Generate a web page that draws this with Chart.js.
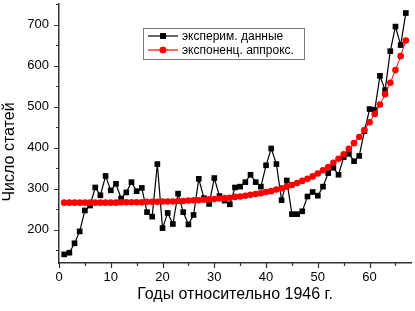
<!DOCTYPE html>
<html>
<head>
<meta charset="utf-8">
<script src="https://cdn.jsdelivr.net/npm/chart.js@4/dist/chart.umd.min.js"></script>
<style>
  body { margin: 0; background: #fff; }
  #wrap { width: 415px; height: 311px; }
</style>
</head>
<body>
<div id="wrap"><canvas id="myChart" width="415" height="311"></canvas></div>
<script>
// years relative to 1946
const years = [1, 2, 3, 4, 5, 6, 7, 8, 9, 10, 11, 12, 13, 14, 15, 16, 17, 18, 19, 20,
    21, 22, 23, 24, 25, 26, 27, 28, 29, 30, 31, 32, 33, 34, 35, 36, 37, 38, 39, 40,
    41, 42, 43, 44, 45, 46, 47, 48, 49, 50, 51, 52, 53, 54, 55, 56, 57, 58, 59, 60,
    61, 62, 63, 64, 65, 66, 67]

const expData = [140, 144, 167, 196, 247, 259, 303, 284, 331, 296, 312, 276, 291, 316, 294, 302, 243, 232, 360, 204,
    241, 214, 288, 243, 213, 236, 324, 277, 263, 326, 282, 271, 262, 303, 305, 316, 334, 316, 305, 357,
    398, 360, 272, 320, 238, 238, 245, 281, 292, 283, 305, 338, 351, 334, 377, 385, 367, 380, 440, 494,
    492, 575, 540, 635, 695, 650, 728]

// exponential approximation
const fitData = [266, 266, 266, 266, 266, 266, 266, 266, 266, 266, 266, 267, 267, 267, 267, 267, 268, 268, 268, 269,
    269, 269, 270, 270, 271, 272, 272, 273, 274, 275, 276, 277, 278, 280, 281, 283, 285, 287, 289, 292,
    294, 298, 301, 305, 309, 314, 319, 324, 330, 337, 345, 353, 363, 373, 384, 397, 411, 426, 443, 462,
    482, 505, 530, 558, 589, 623, 661]

const xTicks = [0, 5, 10, 15, 20, 25, 30, 35, 40, 45, 50, 55, 60, 65]
const yTicks = [150, 200, 250, 300, 350, 400, 450, 500, 550, 600, 650, 700, 750]

const labelExp = 'эксперим. данные'
const labelFit = 'экспоненц. аппрокс.'
const xTitle = 'Годы относительно 1946 г.'
const yTitle = 'Число статей'

const FONT = '"Liberation Sans", Arial, sans-serif'

function toPoints(xs, ys) {
    let pts = []
    for (let i = 0; i < xs.length; i++) {
        pts.push({x: xs[i], y: ys[i]})
    }
    return pts
}

// ticks, rotated y title and the boxed legend
const decorPlugin = {
    id: 'decor',
    afterDraw(chart) {
        const ctx = chart.ctx
        const xs = chart.scales.x
        const ys = chart.scales.y
        const area = chart.chartArea

        ctx.save()
        ctx.strokeStyle = '#333'
        ctx.lineWidth = 1.2
        ctx.beginPath()
        xTicks.forEach(v => {
            let px = Math.round(xs.getPixelForValue(v)) + 0.5
            let len = (v % 10 === 0) ? 5 : 3
            ctx.moveTo(px, area.bottom)
            ctx.lineTo(px, area.bottom + len)
        })
        yTicks.forEach(v => {
            let py = Math.round(ys.getPixelForValue(v)) + 0.5
            let len = (v % 100 === 0) ? 5 : 3
            ctx.moveTo(area.left, py)
            ctx.lineTo(area.left - len, py)
        })
        ctx.stroke()

        // y title
        ctx.fillStyle = '#000'
        ctx.font = '16px ' + FONT
        ctx.textAlign = 'center'
        ctx.textBaseline = 'middle'
        ctx.translate(10, 152)
        ctx.rotate(-Math.PI / 2)
        ctx.fillText(yTitle, 0, 0)
        ctx.restore()

        // legend
        ctx.save()
        const bx = 143.5, by = 28.5, bw = 161, bh = 31
        ctx.fillStyle = '#fff'
        ctx.fillRect(bx, by, bw, bh)
        ctx.strokeStyle = '#777'
        ctx.lineWidth = 1
        ctx.strokeRect(bx, by, bw, bh)

        const rows = [
            {label: labelExp, color: '#000', style: 'rect', r: 4, y: 36},
            {label: labelFit, color: '#ff0000', style: 'circle', r: 3.3, y: 50}
        ]
        rows.forEach(row => {
            ctx.strokeStyle = row.color
            ctx.lineWidth = 1.2
            ctx.beginPath()
            ctx.moveTo(148, row.y)
            ctx.lineTo(178, row.y)
            ctx.stroke()
            ctx.fillStyle = row.color
            Chart.helpers.drawPoint(ctx, {pointStyle: row.style, radius: row.r, borderWidth: 0}, 163, row.y)
            ctx.fill()
            ctx.fillStyle = '#000'
            ctx.font = '12px ' + FONT
            ctx.textAlign = 'left'
            ctx.textBaseline = 'middle'
            ctx.fillText(row.label, 182, row.y + 0.5)
        })
        ctx.restore()
    }
}

const chartdata = {
    datasets: [
        {
            label: labelExp,
            data: toPoints(years, expData),
            borderColor: '#000',
            backgroundColor: '#000',
            borderWidth: 1.2,
            pointStyle: 'rect',
            pointRadius: 4,
            pointBorderWidth: 0,
            order: 1
        },
        {
            label: labelFit,
            data: toPoints(years, fitData),
            borderColor: '#ff0000',
            backgroundColor: '#ff0000',
            borderWidth: 1,
            pointStyle: 'circle',
            pointRadius: 3.3,
            pointBorderWidth: 0,
            order: 0
        }
    ]
}

var canvas = document.getElementById('myChart')
var config = {
    type: 'line',
    data: chartdata,
    plugins: [decorPlugin],
    options: {
        responsive: false,
        animation: false,
        clip: false,
        layout: { padding: 0 },
        plugins: {
            legend: { display: false },
            tooltip: { enabled: false }
        },
        scales: {
            x: {
                type: 'linear',
                min: 0,
                max: 68,
                afterBuildTicks: (scale) => { scale.ticks = xTicks.map(v => ({value: v})) },
                afterFit: (scale) => {
                    scale.height = 48
                    scale.paddingLeft = 0
                    scale.paddingRight = 0
                },
                grid: { display: false, drawTicks: false },
                border: { display: true, color: '#333', width: 1.5 },
                ticks: {
                    autoSkip: false,
                    maxRotation: 0,
                    padding: 7,
                    color: '#000',
                    font: { family: FONT, size: 13 },
                    callback: (v) => (v % 10 === 0 ? String(v) : '')
                },
                title: {
                    display: true,
                    text: xTitle,
                    color: '#000',
                    font: { family: FONT, size: 16 },
                    padding: { top: 0, bottom: 7 }
                }
            },
            y: {
                type: 'linear',
                min: 119,
                max: 750,
                afterBuildTicks: (scale) => { scale.ticks = yTicks.map(v => ({value: v})) },
                afterFit: (scale) => {
                    scale.width = 59
                    scale.paddingTop = 0
                    scale.paddingBottom = 0
                },
                grid: { display: false, drawTicks: false },
                border: { display: true, color: '#333', width: 1.5 },
                ticks: {
                    autoSkip: false,
                    padding: 10,
                    color: '#000',
                    font: { family: FONT, size: 13 },
                    callback: (v) => (v % 100 === 0 ? String(v) : '')
                }
            }
        }
    }
}
myChart = new Chart(canvas, config)
</script>
</body>
</html>
